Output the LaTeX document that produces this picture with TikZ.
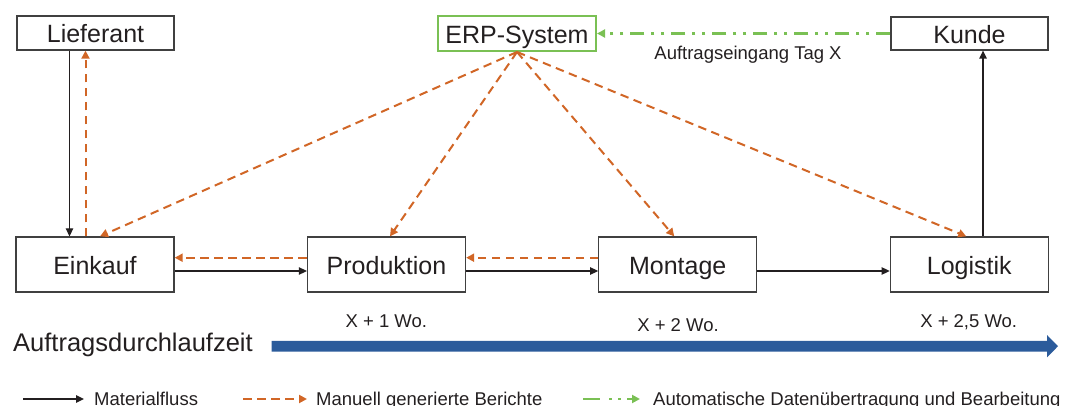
\documentclass[tikz,border=0pt]{standalone}
\usepackage{fontspec}
\setmainfont{Liberation Sans}
\usetikzlibrary{arrows.meta,calc}
\definecolor{orng}{RGB}{209,102,38}
\definecolor{grn}{RGB}{122,192,84}
\definecolor{blu}{RGB}{43,91,155}
\definecolor{txt}{RGB}{35,31,32}
\definecolor{bord}{RGB}{64,64,64}
\begin{document}
\begin{tikzpicture}[x=1pt,y=-1pt,
  every node/.style={text=txt},
  box/.style={draw=bord, line width=1.3pt, rectangle, inner sep=0pt, minimum width=157pt,
    text height=22pt, text depth=2.4pt, font=\fontsize{25}{30}\selectfont},
  lbox/.style={box, minimum width=158pt, minimum height=55pt},
  small/.style={font=\fontsize{18.5}{22}\selectfont, inner sep=0pt},
  mat/.style={draw=txt, line width=1.3pt, -{Triangle[length=8pt,width=7.5pt]}},
  man/.style={draw=orng, line width=2pt, dash pattern=on 8.5pt off 5.5pt, -{Triangle[length=8pt,width=8pt]}},
  autom/.style={draw=grn, line width=2.3pt, dash pattern=on 14pt off 7pt on 3pt off 7pt on 3pt off 7pt, -{Triangle[length=8pt,width=8pt]}}]
\useasboundingbox (0,0) rectangle (1079,406);
\clip (0,0) rectangle (1079,406);

% upper boxes
\node[box, minimum height=34pt] (lief) at (95.5,33) {Lieferant};
\node[box, draw=grn, line width=2pt, minimum width=158pt, minimum height=35pt] (erp) at (517,33.5) {ERP-System};
\node[box, minimum height=33pt] (kunde) at (969.5,33.5) {Kunde};

% lower boxes
\node[lbox] (eink) at (95,264.5) {Einkauf};
\node[lbox] (prod) at (386.5,264.5) {Produktion};
\node[lbox] (mont) at (677.75,264.5) {Montage};
\node[lbox] (log) at (969.25,264.5) {Logistik};

% Lieferant / Einkauf
\draw[mat] ([xshift=-26pt]lief.south) -- ([xshift=-26pt]lief.south |- eink.north);
\draw[man] ([xshift=-9.5pt]eink.north) -- ([xshift=-9.5pt]eink.north |- lief.south);

% ERP reports
\draw[man] (erp.south) -- ([xshift=5pt]eink.north);
\draw[man] (erp.south) -- ([xshift=3.5pt]prod.north);
\draw[man] (erp.south) -- ([xshift=-3.5pt]mont.north);
\draw[man] (erp.south) -- ([xshift=-3pt]log.north);

% horizontal reports
\draw[man] ([yshift=6.8pt]prod.west) -- ([yshift=6.8pt]eink.east);
\draw[man] ([yshift=6.8pt]mont.west) -- ([yshift=6.8pt]prod.east);

% material flow
\draw[mat] ([yshift=-6.5pt]eink.east) -- ([yshift=-6.5pt]prod.west);
\draw[mat] ([yshift=-6.5pt]prod.east) -- ([yshift=-6.5pt]mont.west);
\draw[mat] ([yshift=-6.5pt]mont.east) -- ([yshift=-6.5pt]log.west);
\draw[mat] ([xshift=13.75pt]log.north) -- ([xshift=13.75pt]log.north |- kunde.south);

% order entry
\draw[autom] (kunde.west) -- (erp.east);
\node[small, anchor=base] (lbl) at (748,59.5) {Auftragseingang Tag X};

% times
\node[small, anchor=base] (t1) at (386.3,327) {X + 1 Wo.};
\node[small, anchor=base] (t2) at (678,331) {X + 2 Wo.};
\node[small, anchor=base] (t3) at (968.7,327) {X + 2,5 Wo.};

% lead time
\node[font=\fontsize{25.5}{30}\selectfont, inner sep=0pt, anchor=base west] (adz) at (13,351) {Auftragsdurchlaufzeit};
\fill[blu] (271.7,340.8) -- (1047,340.8) -- (1047,335) -- (1058,346.2) -- (1047,357.4) -- (1047,351.6) -- (271.7,351.6) -- cycle;

% legend
\coordinate (la1) at (23,399);
\coordinate (la2) at (84,399);
\coordinate (lb1) at (243,399);
\coordinate (lb2) at (307,399);
\coordinate (lc1) at (583,399);
\coordinate (lc2) at (640,399);
\draw[mat] (la1) -- (la2);
\draw[man] (lb1) -- (lb2);
\draw[autom, dash pattern=on 17pt off 9pt on 3pt off 6pt on 3pt off 6pt] (lc1) -- (lc2);
\node[small, anchor=base west] (lega) at (94,405.5) {Materialfluss};
\node[small, anchor=base west] (legb) at (316,405.5) {Manuell generierte Berichte};
\node[small, anchor=base west] (legc) at (653,405.5) {Automatische Datenübertragung und Bearbeitung};
\end{tikzpicture}
\end{document}
